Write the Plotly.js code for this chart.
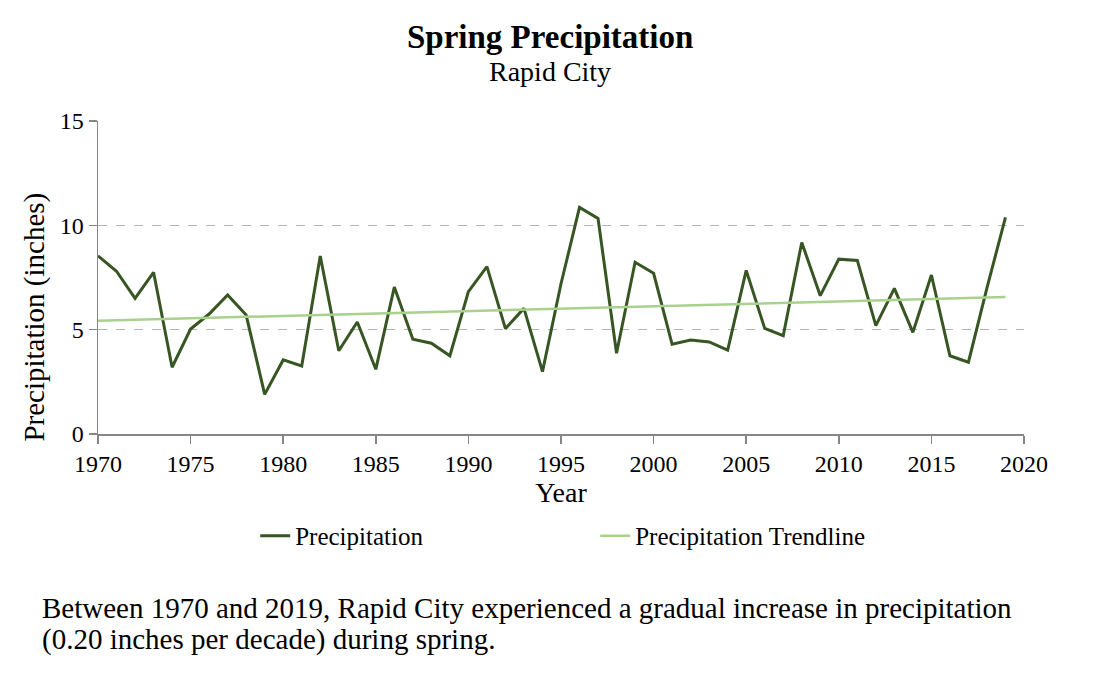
<!DOCTYPE html>
<html>
<head>
<meta charset="utf-8">
<script src="https://cdn.plot.ly/plotly-3.0.1.min.js"></script>
<style>html,body{margin:0;padding:0;background:#fff;}#chart{width:1100px;height:675px;}</style>
</head>
<body>
<div id="chart"></div>
<script>
const years = [1970,1971,1972,1973,1974,1975,1976,1977,1978,1979,
               1980,1981,1982,1983,1984,1985,1986,1987,1988,1989,
               1990,1991,1992,1993,1994,1995,1996,1997,1998,1999,
               2000,2001,2002,2003,2004,2005,2006,2007,2008,2009,
               2010,2011,2012,2013,2014,2015,2016,2017,2018,2019];
const precipitation = [8.54,7.80,6.50,7.75,3.20,5.03,5.75,6.66,5.70,1.90,
                       3.55,3.26,8.53,3.99,5.37,3.10,7.04,4.54,4.35,3.75,
                       6.82,8.02,5.05,6.02,2.99,7.20,10.86,10.33,3.87,8.23,
                       7.70,4.30,4.50,4.41,4.02,7.84,5.06,4.71,9.18,6.63,
                       8.38,8.32,5.19,6.98,4.87,7.62,3.75,3.44,7.00,10.38];
const trendYears = [1970, 2019];
const trendValues = [5.43, 6.56];
const xTicks = [1970,1975,1980,1985,1990,1995,2000,2005,2010,2015,2020];
const yTicks = [0,5,10,15];

const serif = "'Liberation Serif','Times New Roman',serif";

const traces = [
  {x: years, y: precipitation, type: 'scatter', mode: 'lines', name: 'Precipitation',
   line: {color: '#375623', width: 3}},
  {x: trendYears, y: trendValues, type: 'scatter', mode: 'lines', name: 'Precipitation Trendline',
   line: {color: '#A9D18E', width: 2.5}}
];

const layout = {
  width: 1100, height: 675,
  paper_bgcolor: '#fff', plot_bgcolor: '#fff',
  font: {family: serif, color: '#000', size: 24},
  margin: {l: 98, r: 76, t: 121, b: 241},
  xaxis: {
    range: [1970, 2020], tickvals: xTicks, ticktext: xTicks.map(String),
    showline: true, linecolor: '#868686', linewidth: 1.5,
    ticks: 'outside', ticklen: 8, tickcolor: '#868686', tickwidth: 1.5,
    showgrid: false, zeroline: false,
    tickfont: {family: serif, size: 24},
    title: {text: 'Year', font: {family: serif, size: 28}, standoff: 4}
  },
  yaxis: {
    range: [0, 15], tickvals: yTicks, ticktext: yTicks.map(String),
    showline: true, linecolor: '#868686', linewidth: 1.5,
    ticks: 'outside', ticklen: 8, tickcolor: '#868686', tickwidth: 1.5,
    showgrid: true, gridcolor: '#B4B4B4', griddash: 'dash', gridwidth: 1,
    zeroline: false,
    tickfont: {family: serif, size: 24}
  },
  showlegend: true,
  legend: {
    orientation: 'h', x: 0.232, xref: 'container', xanchor: 'left',
    y: 0.206, yref: 'container', yanchor: 'middle',
    font: {family: serif, size: 25}, entrywidth: 295, entrywidthmode: 'pixels',
    traceorder: 'normal', bgcolor: 'rgba(0,0,0,0)'
  },
  annotations: [
    {text: '<b>Spring Precipitation</b>', xref: 'paper', yref: 'paper',
     x: 0.488, y: 1.268, xanchor: 'center', yanchor: 'middle', showarrow: false,
     font: {family: serif, size: 33, color: '#000'}},
    {text: 'Rapid City', xref: 'paper', yref: 'paper',
     x: 0.488, y: 1.157, xanchor: 'center', yanchor: 'middle', showarrow: false,
     font: {family: serif, size: 28, color: '#000'}},
    {text: 'Precipitation (inches)', xref: 'paper', yref: 'paper',
     x: -0.068, y: 0.372, xanchor: 'center', yanchor: 'middle', textangle: -90, showarrow: false,
     font: {family: serif, size: 29, color: '#000'}},
    {text: 'Between 1970 and 2019, Rapid City experienced a gradual increase in precipitation',
     xref: 'paper', yref: 'paper', x: -0.0626, y: -0.556, xanchor: 'left', yanchor: 'middle',
     align: 'left', showarrow: false, font: {family: serif, size: 29, color: '#000'}},
    {text: '(0.20 inches per decade) during spring.',
     xref: 'paper', yref: 'paper', x: -0.0626, y: -0.658, xanchor: 'left', yanchor: 'middle',
     align: 'left', showarrow: false, font: {family: serif, size: 29, color: '#000'}}
  ]
};

Plotly.newPlot('chart', traces, layout, {displayModeBar: false, staticPlot: true});
</script>
</body>
</html>
